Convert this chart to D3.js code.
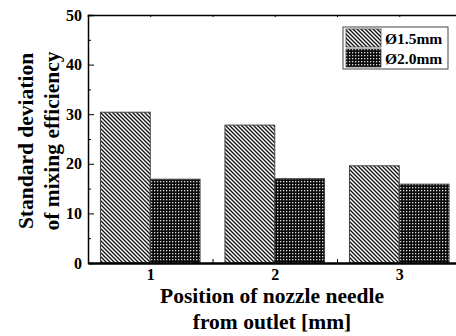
<!DOCTYPE html>
<html><head><meta charset="utf-8">
<script src="https://cdn.jsdelivr.net/npm/d3@7"></script>
<style>body{margin:0;background:#fff}svg{display:block}</style>
</head><body>
<script>
const categories = [1, 2, 3];
const seriesNames = ["Ø1.5mm", "Ø2.0mm"];
const values15 = [30.4, 27.8, 19.6];
const values20 = [16.9, 17.0, 15.9];
const yTicks = [0, 10, 20, 30, 40, 50];
const yMinorTicks = [5, 15, 25, 35, 45];
const xMinorTicks = [1.5, 2.5];
const yTitle = ["Standard deviation", "of mixing efficiency"];
const xTitle = ["Position of nozzle needle", "from outlet [mm]"];

const W = 456, H = 336;
const svg = d3.select("body").append("svg").attr("width", W).attr("height", H);
const font = "'Liberation Serif','Times New Roman',serif";

const defs = svg.append("defs");
const p1 = defs.append("pattern").attr("id", "hatch").attr("patternUnits", "userSpaceOnUse")
  .attr("width", 4).attr("height", 4);
p1.append("rect").attr("width", 4).attr("height", 4).attr("fill", "#fff");
p1.append("path").attr("d", "M-1,-1L5,5M-1,3L1,5M3,-1L5,1").attr("stroke", "#111").attr("stroke-width", 1.35);
const p2 = defs.append("pattern").attr("id", "dots").attr("patternUnits", "userSpaceOnUse")
  .attr("width", 3).attr("height", 3);
p2.append("rect").attr("width", 3).attr("height", 3).attr("fill", "#0a0a0a");
p2.append("rect").attr("x", 1).attr("y", 1).attr("width", 1.3).attr("height", 1.3).attr("fill", "#ddd");

const x = d3.scaleLinear().domain([0.5, 3.5]).range([88, 461.5]);
const y = d3.scaleLinear().domain([0, 50]).range([263, 15]);
const barW = (x(2) - x(1)) * 0.4;

const fills = ["url(#hatch)", "url(#dots)"];
[values15, values20].forEach((vals, si) => {
  svg.append("g").selectAll("rect").data(categories).join("rect")
    .attr("x", (d, i) => x(d) - barW + si * barW)
    .attr("y", (d, i) => y(vals[i]))
    .attr("width", barW)
    .attr("height", (d, i) => y(0) - y(vals[i]))
    .attr("fill", fills[si])
    .attr("stroke", "#444").attr("stroke-width", 1);
});

// left axis
const ya = svg.append("g").attr("transform", `translate(${x(0.5)},0)`)
  .call(d3.axisLeft(y).tickValues(yTicks).tickSize(-6).tickPadding(6).tickFormat(d3.format("d")));
ya.select(".domain").attr("stroke-width", 1.5);
ya.selectAll("text").attr("font-family", font).attr("font-weight", "bold").attr("font-size", 16).attr("fill", "#000");
svg.append("g").attr("transform", `translate(${x(0.5)},0)`)
  .call(d3.axisLeft(y).tickValues(yMinorTicks).tickSize(-3).tickFormat(""))
  .select(".domain").remove();

// bottom axis
const xa = svg.append("g").attr("transform", `translate(0,${y(0)})`)
  .call(d3.axisBottom(x).tickValues(categories).tickSize(0).tickPadding(5.5).tickFormat(d3.format("d")));
xa.select(".domain").attr("stroke-width", 2.5);
xa.selectAll("text").attr("font-family", font).attr("font-weight", "bold").attr("font-size", 16).attr("fill", "#000");
svg.append("g").attr("transform", `translate(0,${y(0)})`)
  .call(d3.axisBottom(x).tickValues(xMinorTicks).tickSize(-4).tickFormat(""))
  .select(".domain").remove();

// top axis
const ta = svg.append("g").attr("transform", `translate(0,${y(50)})`)
  .call(d3.axisTop(x).tickValues(categories.concat(xMinorTicks)).tickSize(-2).tickFormat(""));
ta.select(".domain").attr("stroke-width", 1.5);

// titles
const yt = svg.append("text").attr("transform", `translate(0,141) rotate(-90)`)
  .attr("font-family", font).attr("font-weight", "bold").attr("font-size", 21.5).attr("text-anchor", "middle");
yt.selectAll("tspan").data(yTitle).join("tspan").attr("x", 0).attr("y", (d, i) => 33 + i * 26).text(d => d);
const xt = svg.append("text").attr("font-family", font).attr("font-weight", "bold").attr("font-size", 21.5).attr("text-anchor", "middle");
xt.selectAll("tspan").data(xTitle).join("tspan").attr("x", 272).attr("y", (d, i) => 303 + i * 26).text(d => d);

// legend
const lg = svg.append("g");
lg.append("rect").attr("x", 343).attr("y", 27).attr("width", 105).attr("height", 42)
  .attr("fill", "#fff").attr("stroke", "#444").attr("stroke-width", 1);
seriesNames.forEach((n, i) => {
  lg.append("rect").attr("x", 346).attr("y", 29 + i * 20).attr("width", 35).attr("height", 18)
    .attr("fill", fills[i]).attr("stroke", "#444").attr("stroke-width", 0.8);
  lg.append("text").attr("x", 385).attr("y", 43.5 + i * 20).text(n)
    .attr("font-family", font).attr("font-weight", "bold").attr("font-size", 15.5);
});
</script>
</body></html>
